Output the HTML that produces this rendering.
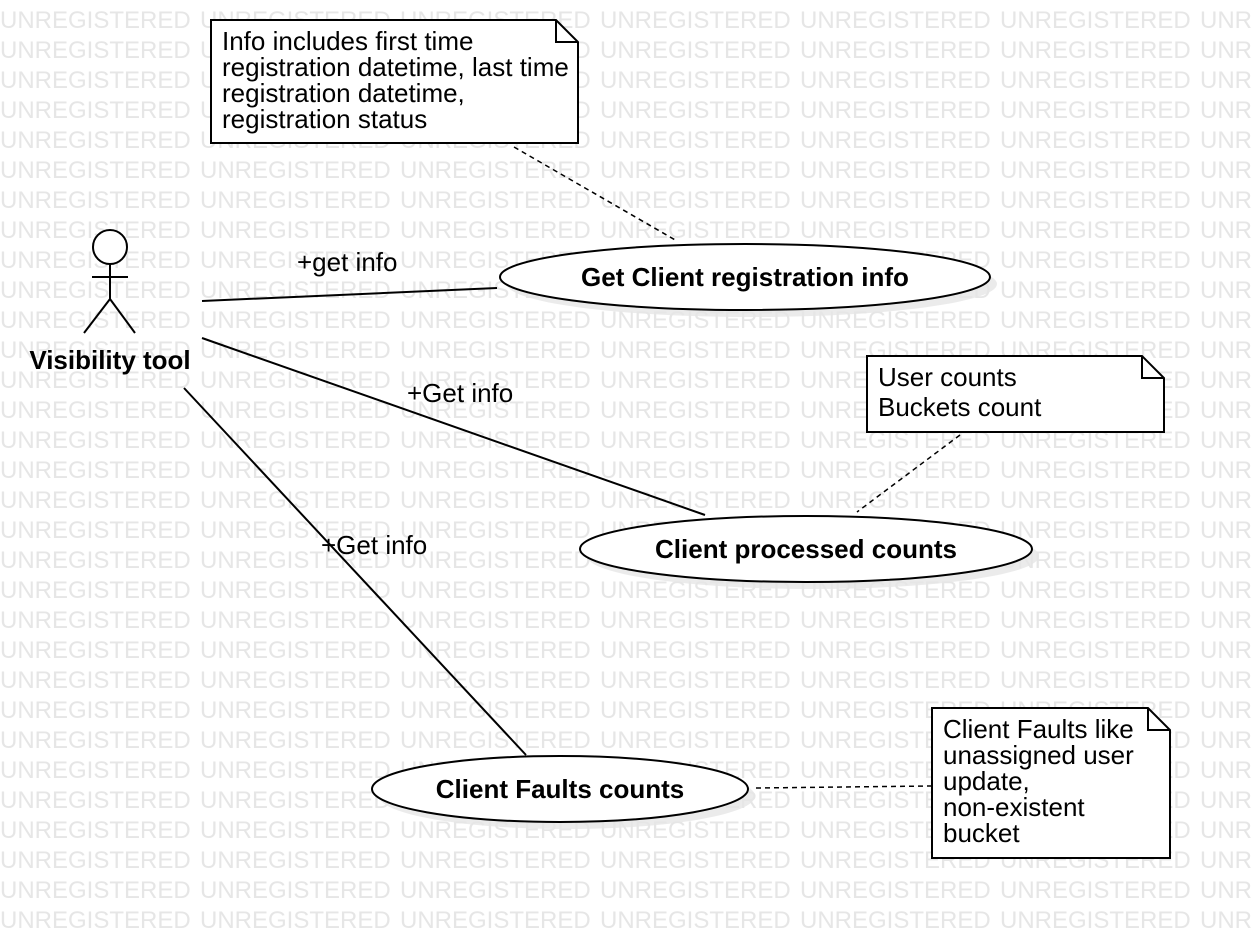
<!DOCTYPE html>
<html><head><meta charset="utf-8"><style>html,body{margin:0;padding:0;background:#fff}svg{display:block}</style></head>
<body>
<svg width="1252" height="940" xmlns="http://www.w3.org/2000/svg" font-family="Liberation Sans, sans-serif">
<defs>
<pattern id="wm" x="0" y="0" width="200" height="30" patternUnits="userSpaceOnUse">
<text x="0" y="28" font-size="24" fill="#e6e6e6">UNREGISTERED</text>
</pattern>
</defs>
<rect x="0" y="0" width="1252" height="940" fill="url(#wm)"/>
<g stroke="#000" stroke-width="2" fill="none">
<circle cx="110" cy="247" r="17" fill="#fff"/>
<line x1="110" y1="264" x2="110" y2="299"/>
<line x1="92" y1="277" x2="128" y2="277"/>
<line x1="110" y1="299" x2="84" y2="333"/>
<line x1="110" y1="299" x2="135" y2="333"/>
<line x1="202" y1="301" x2="497" y2="288"/>
<line x1="202" y1="338" x2="705" y2="515"/>
<line x1="184" y1="388" x2="526" y2="755"/>
</g>
<g stroke="#000" stroke-width="1.5" stroke-dasharray="5,4" fill="none">
<line x1="514" y1="147" x2="677" y2="241"/>
<line x1="960" y1="435" x2="857" y2="512"/>
<line x1="756" y1="788" x2="931" y2="786"/>
</g>
<ellipse cx="752" cy="284" rx="245" ry="33" fill="#e6e6e6" opacity="0.8"/>
<ellipse cx="745" cy="277" rx="245" ry="33" fill="#fff" stroke="#000" stroke-width="2"/>
<ellipse cx="813" cy="556" rx="226" ry="33" fill="#e6e6e6" opacity="0.8"/>
<ellipse cx="806" cy="549" rx="226" ry="33" fill="#fff" stroke="#000" stroke-width="2"/>
<ellipse cx="567" cy="796" rx="188" ry="33" fill="#e6e6e6" opacity="0.8"/>
<ellipse cx="560" cy="789" rx="188" ry="33" fill="#fff" stroke="#000" stroke-width="2"/>
<g font-size="26" font-weight="bold" text-anchor="middle">
<text x="745" y="286">Get Client registration info</text>
<text x="806" y="558">Client processed counts</text>
<text x="560" y="798">Client Faults counts</text>
<text x="110" y="369">Visibility tool</text>
</g>
<g stroke="#000" stroke-width="2" fill="#fff">
<path d="M211 20 H556 L578 42 V143 H211 Z"/>
<path d="M556 20 V42 H578" fill="none"/>
<path d="M867 356 H1142 L1164 378 V432 H867 Z"/>
<path d="M1142 356 V378 H1164" fill="none"/>
<path d="M932 708 H1148 L1170 730 V858 H932 Z"/>
<path d="M1148 708 V730 H1170" fill="none"/>
</g>
<g font-size="26" fill="#000">
<text x="222" y="50">Info includes first time</text>
<text x="222" y="76">registration datetime, last time</text>
<text x="222" y="102">registration datetime,</text>
<text x="222" y="128">registration status</text>
<text x="878" y="386">User counts</text>
<text x="878" y="416">Buckets count</text>
<text x="943" y="738">Client Faults like</text>
<text x="943" y="764">unassigned user</text>
<text x="943" y="790">update,</text>
<text x="943" y="816">non-existent</text>
<text x="943" y="842">bucket</text>
<text x="297" y="271">+get info</text>
<text x="407" y="402">+Get info</text>
<text x="321" y="554">+Get info</text>
</g>
</svg>
</body></html>
